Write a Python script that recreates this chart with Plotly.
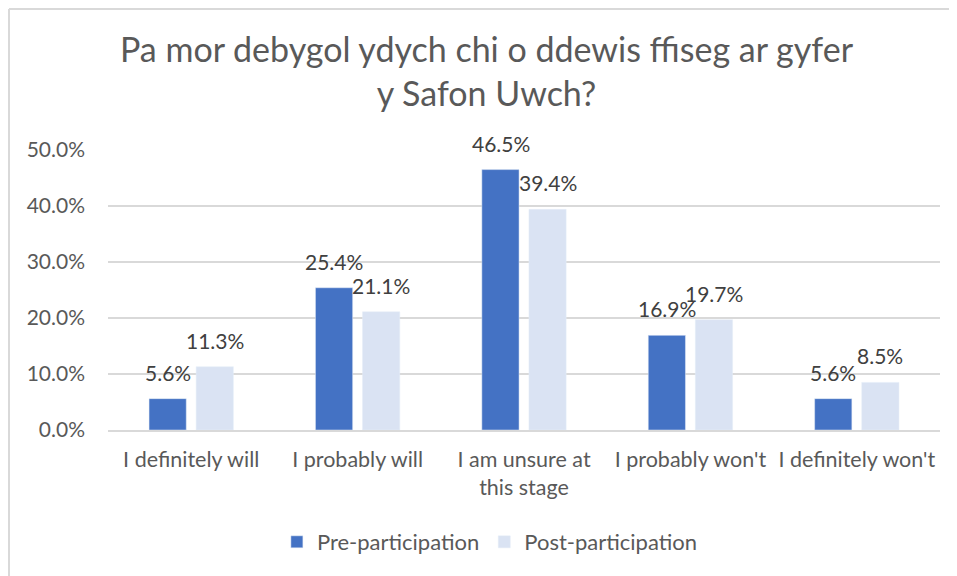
import plotly.graph_objects as go

categories = ["I definitely will", "I probably will", "I am unsure at<br>this stage",
              "I probably won't", "I definitely won't"]
pre = [5.6, 25.4, 46.5, 16.9, 5.6]
post = [11.3, 21.1, 39.4, 19.7, 8.5]
series_names = ["Pre-participation", "Post-participation"]
title_text = "Pa mor debygol ydych chi o ddewis ffiseg ar gyfer<br>y Safon Uwch?"

FONT = "Lato"
GREY = "#595959"
C_PRE = "#4472C4"
C_POST = "#DAE3F3"

fig = go.Figure()
fig.add_trace(go.Bar(x=categories, y=pre, name=series_names[0], marker_color=C_PRE))
fig.add_trace(go.Bar(x=categories, y=post, name=series_names[1], marker_color=C_POST))

annotations = []
for cat, v in zip(categories, pre):
    annotations.append(dict(x=cat, y=v, xref="x", yref="y", text=f"{v:.1f}%", showarrow=False,
                            xshift=-23.5, yshift=12, yanchor="bottom",
                            font=dict(family=FONT, size=21, color="#404040")))
for cat, v in zip(categories, post):
    annotations.append(dict(x=cat, y=v, xref="x", yref="y", text=f"{v:.1f}%", showarrow=False,
                            xshift=23.5, yshift=12, yanchor="bottom",
                            font=dict(family=FONT, size=21, color="#404040")))

fig.update_layout(
    width=957, height=576,
    margin=dict(l=100, r=25, t=142, b=154),
    paper_bgcolor="white", plot_bgcolor="white",
    title=dict(text=title_text, x=0.5, xanchor="center", y=0.906, yanchor="top",
               font=dict(family=FONT, size=34, color=GREY)),
    barmode="group", bargap=0.434, bargroupgap=0.21,
    font=dict(family=FONT, size=20, color=GREY),
    showlegend=True,
    legend=dict(orientation="h", x=0.459, xanchor="center", y=-0.40, yanchor="middle",
                font=dict(family=FONT, size=22, color=GREY), traceorder="normal"),
    annotations=annotations,
    shapes=[
        dict(type="line", xref="paper", yref="paper", x0=(1-100)/832, x1=1.2,
             y0=(142-1)/280 + 1, y1=(142-1)/280 + 1, line=dict(color="#D9D9D9", width=2)),
        dict(type="line", xref="paper", yref="paper", x0=(1-100)/832, x1=(1-100)/832,
             y0=(142-1)/280 + 1, y1=-0.7, line=dict(color="#D9D9D9", width=2)),
    ],
)
fig.update_xaxes(showline=True, linecolor="#D9D9D9", linewidth=2, ticks="",
                 tickfont=dict(family=FONT, size=21.5, color=GREY), ticklabelstandoff=9)
fig.update_yaxes(range=[0, 50], dtick=10, tickformat=".1f", ticksuffix="%",
                 showgrid=True, gridcolor="#D9D9D9", gridwidth=2, zeroline=False,
                 tickfont=dict(family=FONT, size=21, color=GREY), ticklabelstandoff=22)

fig.write_html("out.html")
